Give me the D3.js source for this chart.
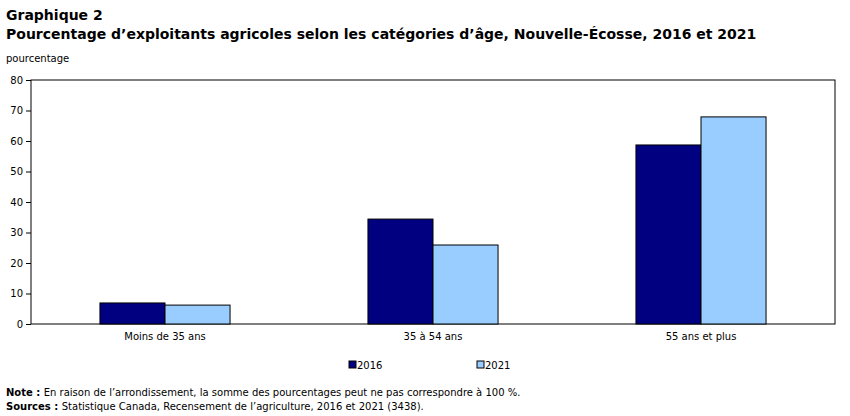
<!DOCTYPE html>
<html><head><meta charset="utf-8">
<script src="https://cdn.jsdelivr.net/npm/d3@7"></script>
<style>
body{margin:0;background:#fff;font-family:"DejaVu Sans",Verdana,sans-serif;}
</style></head>
<body><svg id="chart" width="850" height="416"></svg>
<script>
const categories = ['Moins de 35 ans', '35 à 54 ans', '55 ans et plus'];
const seriesNames = ['2016', '2021'];
const values2016 = [6.9, 34.4, 58.7];
const values2021 = [6.2, 25.9, 67.9];
const yTicks = [0, 10, 20, 30, 40, 50, 60, 70, 80];
const colors = ['#000080', '#99ccff'];

const svg = d3.select('#chart');
const plotLeft = 31, plotRight = 835, plotTop = 80, plotBottom = 324;

svg.append('text').attr('x', 6).attr('y', 20).attr('font-size', 14).attr('font-weight', 'bold').text('Graphique 2');
svg.append('text').attr('x', 6).attr('y', 39).attr('font-size', 14).attr('font-weight', 'bold')
  .text('Pourcentage d’exploitants agricoles selon les catégories d’âge, Nouvelle-Écosse, 2016 et 2021');
svg.append('text').attr('x', 6).attr('y', 62).attr('font-size', 10).text('pourcentage');

const x = d3.scaleBand().domain(categories).range([plotLeft, plotRight]).paddingInner(0).paddingOuter(0);
const x1 = d3.scaleBand().domain(seriesNames).range([0, x.bandwidth()]).paddingInner(0).paddingOuter(1.06);
const y = d3.scaleLinear().domain([0, 80]).range([plotBottom, plotTop]);

const yAxis = svg.append('g').attr('transform', `translate(${plotLeft},0)`)
  .call(d3.axisLeft(y).tickValues(yTicks).tickSize(5).tickSizeOuter(0));
yAxis.select('.domain').remove();
yAxis.selectAll('text').attr('font-size', 10).attr('font-family', '"DejaVu Sans",Verdana,sans-serif').attr('fill', '#000');

svg.append('rect').attr('x', plotLeft).attr('y', plotTop).attr('width', plotRight - plotLeft).attr('height', plotBottom - plotTop)
  .attr('fill', 'none').attr('stroke', '#000');

const data = categories.map((c, i) => ({ c, v: [values2016[i], values2021[i]] }));
const groups = svg.selectAll('g.cat').data(data).join('g').attr('class', 'cat')
  .attr('transform', d => `translate(${x(d.c)},0)`);
groups.selectAll('rect').data(d => d.v.map((v, j) => ({ v, s: seriesNames[j], j }))).join('rect')
  .attr('x', d => x1(d.s)).attr('width', x1.bandwidth())
  .attr('y', d => y(d.v)).attr('height', d => y(0) - y(d.v))
  .attr('fill', d => colors[d.j]).attr('stroke', '#000').attr('stroke-width', 1);

const xAxis = svg.append('g').attr('transform', `translate(0,${plotBottom})`)
  .call(d3.axisBottom(x).tickSize(0).tickPadding(9));
xAxis.select('.domain').remove();
xAxis.selectAll('text').attr('font-size', 10).attr('font-family', '"DejaVu Sans",Verdana,sans-serif').attr('fill', '#000');

const legend = svg.append('g');
seriesNames.forEach((s, i) => {
  const lx = 349 + i * 128;
  legend.append('rect').attr('x', lx).attr('y', 361).attr('width', 7).attr('height', 7)
    .attr('fill', colors[i]).attr('stroke', '#000');
  legend.append('text').attr('x', lx + 8).attr('y', 369).attr('font-size', 10).text(s);
});

const n1 = svg.append('text').attr('x', 6).attr('y', 396).attr('font-size', 10);
n1.append('tspan').attr('font-weight', 'bold').text('Note : ');
n1.append('tspan').text('En raison de l’arrondissement, la somme des pourcentages peut ne pas correspondre à 100 %.');
const n2 = svg.append('text').attr('x', 6).attr('y', 410).attr('font-size', 10);
n2.append('tspan').attr('font-weight', 'bold').text('Sources : ');
n2.append('tspan').text('Statistique Canada, Recensement de l’agriculture, 2016 et 2021 (3438).');
</script></body></html>
